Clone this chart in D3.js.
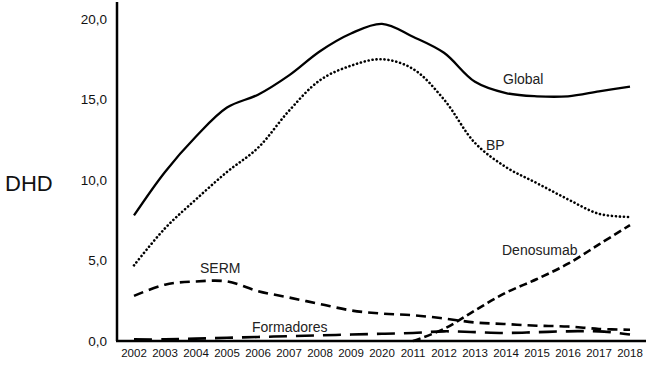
<!DOCTYPE html>
<html>
<head>
<meta charset="utf-8">
<script src="https://cdn.jsdelivr.net/npm/d3@7"></script>
<style>
  body { margin: 0; background: #fff; }
  svg { display: block; font-family: "Liberation Sans", Arial, sans-serif; }
</style>
</head>
<body>
<svg id="chart"></svg>
<script>
// tick labels as printed on the original (note "2020" instead of 2010)
const years = ["2002","2003","2004","2005","2006","2007","2008","2009","2020",
  "2011","2012","2013","2014","2015","2016","2017","2018"];
const yTicks = [0, 5, 10, 15, 20];

const globalVals = [7.8, 10.5, 12.7, 14.5, 15.3, 16.5, 18.0, 19.1, 19.7, 18.9, 17.9, 16.1, 15.4, 15.2, 15.2, 15.5, 15.8];
const bpVals = [4.7, 7.0, 8.8, 10.5, 12.0, 14.3, 16.2, 17.1, 17.5, 16.9, 15.0, 12.3, 10.8, 9.8, 8.8, 7.9, 7.7];
const sermVals = [2.8, 3.5, 3.7, 3.7, 3.1, 2.7, 2.3, 1.9, 1.7, 1.6, 1.4, 1.15, 1.05, 0.95, 0.9, 0.75, 0.7];
const formadoresVals = [0.1, 0.1, 0.15, 0.2, 0.25, 0.3, 0.35, 0.4, 0.45, 0.5, 0.6, 0.55, 0.5, 0.55, 0.6, 0.6, 0.4];
const denosumabVals = [null, null, null, null, null, null, null, null, null, 0, 0.75, 1.9, 3.0, 3.85, 4.8, 6.0, 7.2];

const width = 650, height = 366;

const svg = d3.select("#chart")
  .attr("width", width)
  .attr("height", height);

let x = d3.scalePoint().domain(years).range([134, 630]);
let y = d3.scaleLinear().domain([0, 20]).range([341, 19]);

// axes: plain lines, no tick marks
svg.append("line")
  .attr("x1", 117).attr("x2", 117)
  .attr("y1", 2).attr("y2", y(0))
  .attr("stroke", "#000").attr("stroke-width", 2.5);
svg.append("line")
  .attr("x1", 116).attr("x2", 646)
  .attr("y1", y(0)).attr("y2", y(0))
  .attr("stroke", "#000").attr("stroke-width", 2.5);

svg.append("g")
  .selectAll("text")
  .data(yTicks)
  .join("text")
  .attr("x", 107)
  .attr("y", d => y(d))
  .attr("dy", "0.35em")
  .attr("text-anchor", "end")
  .attr("font-size", 13.5)
  .attr("fill", "#111")
  .text(d => d3.format(".1f")(d).replace(".", ","));

svg.append("g")
  .selectAll("text")
  .data(years)
  .join("text")
  .attr("x", d => x(d))
  .attr("y", 357)
  .attr("text-anchor", "middle")
  .attr("font-size", 11.5)
  .attr("fill", "#111")
  .text(d => d);

svg.append("text")
  .attr("x", 5)
  .attr("y", 191)
  .attr("font-size", 22)
  .attr("fill", "#111")
  .text("DHD");

const series = [
  { name: "Global", values: globalVals, dash: null, w: 2.3, lx: 503, ly: 84 },
  { name: "BP", values: bpVals, dash: "0.1,3.9", w: 2.6, lx: 486, ly: 150 },
  { name: "SERM", values: sermVals, dash: "10,6", w: 2.6, lx: 200, ly: 273 },
  { name: "Formadores", values: formadoresVals, dash: "18,9", w: 2.6, lx: 252, ly: 332 },
  { name: "Denosumab", values: denosumabVals, dash: "8,4", w: 2.6, lx: 502, ly: 255 }
];

const line = d3.line()
  .defined(d => d[1] != null)
  .x(d => x(d[0]))
  .y(d => y(d[1]))
  .curve(d3.curveCatmullRom.alpha(0.5));

series.forEach(s => {
  svg.append("path")
    .datum(years.map((yr, i) => [yr, s.values[i]]))
    .attr("fill", "none")
    .attr("stroke", "#000")
    .attr("stroke-width", s.w)
    .attr("stroke-dasharray", s.dash)
    .attr("stroke-linecap", s.name === "BP" ? "round" : "butt")
    .attr("d", line);

  svg.append("text")
    .attr("x", s.lx)
    .attr("y", s.ly)
    .attr("font-size", 14)
    .attr("fill", "#222")
    .text(s.name);
});
</script>
</body>
</html>
